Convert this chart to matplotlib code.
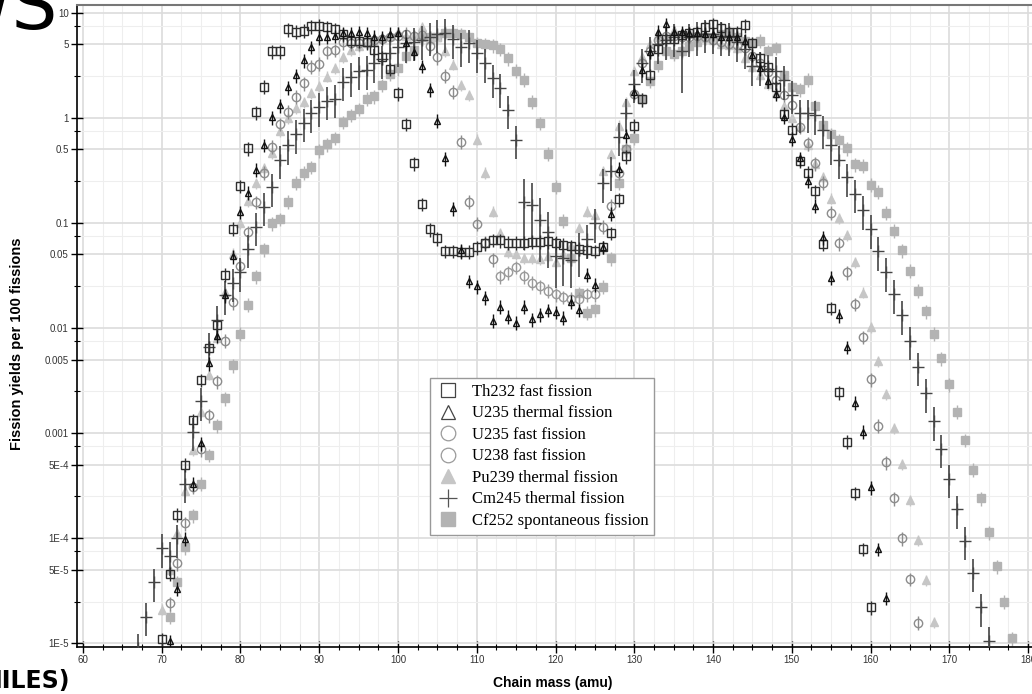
import matplotlib
matplotlib.use("Agg")
import matplotlib.pyplot as plt
from matplotlib.lines import Line2D
from matplotlib.ticker import FixedLocator, FixedFormatter, NullFormatter

# yields per 100 fissions (chain mass A -> yield)
th232_A = list(range(70, 161))
th232_y = [1.1e-5, 4.6e-5, 1.67e-4, 5.0e-4, 1.33e-3, 3.2e-3, 6.5e-3, 0.0107, 0.032, 0.088,
           0.224, 0.51, 1.13, 1.98, 4.3, 4.3, 6.95, 6.55, 6.7, 7.4,
           7.5, 7.3, 6.95, 6.2, 5.4, 5.4, 5.2, 4.4, 3.77, 2.91,
           1.71, 0.87, 0.37, 0.151, 0.087, 0.071, 0.054, 0.054, 0.053, 0.053,
           0.0586, 0.064, 0.0687, 0.068, 0.065, 0.065, 0.065, 0.066, 0.066, 0.067,
           0.065, 0.062, 0.060, 0.057, 0.055, 0.054, 0.059, 0.080, 0.167, 0.43,
           0.84, 1.5, 2.54, 4.5, 5.6, 5.6, 6.1, 6.4, 6.5, 7.3,
           7.8, 7.1, 6.5, 6.5, 7.6, 5.1, 3.68, 3.06, 1.95, 1.09,
           0.77, 0.39, 0.30, 0.20, 0.063, 0.0155, 0.00245, 8.3e-4, 2.7e-4, 7.9e-5,
           2.2e-5]

u235t_A = list(range(71, 163))
u235t_y = [1.05e-5, 3.3e-5, 9.9e-5, 3.3e-4, 8.0e-4, 4.6e-3, 8.4e-3, 0.0205, 0.048,
           0.127, 0.194, 0.32, 0.55, 1.01, 1.31, 1.95, 2.54, 3.5, 4.7,
           5.8, 5.9, 6.0, 6.4, 6.4, 6.5, 6.4, 5.9, 5.8, 6.27,
           6.4, 5.1, 4.17, 3.1, 1.87, 0.94, 0.41, 0.138, 0.055, 0.028,
           0.025, 0.0196, 0.0117, 0.016, 0.0128, 0.0112, 0.016, 0.0121, 0.0135, 0.0148,
           0.0142, 0.0125, 0.0178, 0.0148, 0.032, 0.0257, 0.059, 0.122, 0.326, 0.68,
           1.77, 2.85, 4.25, 6.6, 7.8, 6.5, 6.5, 6.4, 6.4, 6.3,
           6.27, 5.9, 5.8, 5.8, 5.4, 3.95, 2.96, 2.24, 1.68, 1.02,
           0.63, 0.41, 0.25, 0.145, 0.073, 0.030, 0.0132, 0.0066, 0.00195, 0.00103,
           3.05e-4, 7.9e-5, 2.7e-5]

u235f_A = list(range(71, 113)) + list(range(126, 167))
u235f_y = [2.4e-5, 5.8e-5, 1.39e-4, 3.1e-4, 7.0e-4, 1.48e-3, 3.1e-3, 7.6e-3, 0.0176,
           0.039, 0.081, 0.158, 0.30, 0.53, 0.87, 1.14, 1.58, 2.13, 3.06,
           3.25, 4.3, 4.4, 5.2, 5.1, 5.1, 5.3, 5.5, 5.6, 5.8,
           6.0, 6.3, 6.0, 6.1, 4.8, 3.77, 2.5, 1.77, 0.59, 0.159,
           0.098, 0.065, 0.045,
           0.092, 0.145, 0.30, 0.50,
           1.68, 3.34, 4.3, 5.5, 6.0, 6.0, 5.8, 5.9, 6.0, 5.8,
           5.5, 5.3, 5.0, 4.9, 4.6, 3.9, 3.3, 2.75, 2.29, 1.65,
           1.32, 0.82, 0.57, 0.37, 0.24, 0.125, 0.064, 0.034, 0.0169, 0.0082,
           0.00325, 0.00118, 5.3e-4, 2.4e-4, 1.0e-4, 4.1e-5, 1.57e-5]

u238f_A = list(range(113, 126))
u238f_y = [0.031, 0.034, 0.038, 0.031, 0.027, 0.025, 0.0227, 0.021, 0.0197, 0.019,
           0.019, 0.021, 0.021]

pu239_A = list(range(70, 169))
pu239_y = [2.1e-5, 5.0e-5, 1.11e-4, 2.8e-4, 6.9e-4, 1.6e-3, 3.6e-3, 8.0e-3, 0.022, 0.051,
           0.10, 0.16, 0.24, 0.33, 0.46, 0.74, 0.99, 1.23, 1.4, 1.71,
           2.0, 2.46, 2.96, 3.8, 4.4, 4.8, 5.1, 5.3, 5.7, 6.0,
           6.6, 6.0, 6.1, 7.3, 5.6, 5.8, 4.3, 3.2, 2.05, 1.65,
           0.62, 0.30, 0.128, 0.080, 0.053, 0.050, 0.046, 0.046, 0.045, 0.048,
           0.042, 0.05, 0.06, 0.089, 0.128, 0.12, 0.31, 0.45, 0.84, 1.42,
           2.8, 3.77, 5.0, 5.8, 6.0, 6.9, 6.5, 6.5, 6.0, 5.7,
           5.5, 5.0, 4.9, 4.6, 3.68, 3.06, 2.55, 2.1, 1.7, 1.3,
           0.99, 0.81, 0.55, 0.36, 0.27, 0.17, 0.11, 0.077, 0.042, 0.0217,
           0.0102, 0.0048, 0.00235, 0.00111, 5.1e-4, 2.3e-4, 9.6e-5, 4.0e-5, 1.6e-5]

cm245_A = list(range(67, 176))
cm245_y = [9e-6, 1.8e-5, 3.8e-5,
           8.1e-5, 6.8e-5, 1.0e-4, 3.3e-4, 1.03e-3, 2.0e-3, 6.6e-3, 0.0119, 0.0205, 0.027,
           0.034, 0.057, 0.092, 0.143, 0.218, 0.40, 0.55, 0.70, 0.90, 1.1,
           1.26, 1.45, 1.52, 2.2, 2.43, 2.8, 2.85, 3.3, 3.6, 4.1,
           4.7, 5.1, 5.3, 5.5, 5.9, 6.3, 6.4, 5.6, 4.7, 5.1,
           4.1, 3.3, 2.36, 1.91, 1.19, 0.62, 0.159, 0.148, 0.107, 0.082,
           0.048, 0.046, 0.044, 0.055, 0.07, 0.10, 0.24, 0.31, 0.66, 1.12,
           2.1, 3.3, 4.3, 5.0, 5.5, 5.8, 4.3, 5.8, 6.0, 6.3,
           6.2, 6.0, 5.9, 5.2, 4.5, 3.1, 3.1, 2.9, 2.8, 2.29,
           1.65, 1.1, 1.1, 1.06, 0.77, 0.55, 0.40, 0.27, 0.19, 0.132,
           0.087, 0.054, 0.034, 0.021, 0.0133, 0.0076, 0.0043, 0.0024, 0.0013, 7.1e-4,
           3.7e-4, 1.88e-4, 9.5e-5, 4.7e-5, 2.2e-5, 1.06e-5]
# Cm245 points in the valley with very long error bars
cm245_big_A = [116, 117, 118, 119, 120, 121, 122, 123, 136]
cm245_big_err = [0.65, 0.6, 0.6, 0.55, 0.5, 0.45, 0.45, 0.45, 0.6]

cf252_A = list(range(71, 179))
cf252_y = [1.8e-5, 3.8e-5, 8.2e-5, 1.65e-4, 3.3e-4, 6.2e-4, 1.19e-3, 2.14e-3, 4.4e-3,
           8.8e-3, 0.0167, 0.031, 0.056, 0.099, 0.109, 0.159, 0.24, 0.30, 0.34,
           0.49, 0.56, 0.64, 0.91, 1.06, 1.21, 1.52, 1.6, 2.05, 2.61,
           2.96, 3.87, 4.4, 5.8, 5.8, 5.8, 6.45, 6.45, 6.2, 5.8,
           5.1, 5.0, 4.9, 4.5, 3.68, 2.8, 2.29, 1.42, 0.89, 0.455,
           0.22, 0.105, 0.046, 0.0214, 0.014, 0.0151, 0.0247, 0.046, 0.24, 0.50,
           0.64, 1.5, 2.25, 3.18, 4.3, 4.05, 4.3, 4.8, 5.2, 5.8,
           5.8, 6.3, 6.4, 5.9, 5.4, 5.1, 5.4, 4.3, 4.6, 2.55,
           1.95, 1.87, 2.3, 1.29, 0.85, 0.70, 0.61, 0.51, 0.36, 0.35,
           0.23, 0.197, 0.125, 0.084, 0.055, 0.035, 0.0226, 0.0144, 0.0088, 0.00515,
           0.0029, 0.0016, 8.6e-4, 4.5e-4, 2.4e-4, 1.14e-4, 5.4e-5, 2.5e-5, 1.12e-5]

y_ticks = [1e-5, 5e-5, 1e-4, 5e-4, 1e-3, 5e-3, 0.01, 0.05, 0.1, 0.5, 1, 5, 10]
y_labels = ['1E-5', '5E-5', '1E-4', '5E-4', '0.001', '0.005', '0.01', '0.05',
            '0.1', '0.5', '1', '5', '10']
x_ticks = list(range(60, 181, 10))


def err(vals, rel):
    lo = [v * rel for v in vals]
    hi = [v * rel for v in vals]
    return [lo, hi]


fig = plt.figure(figsize=(10.32, 6.94), dpi=100)
ax = fig.add_axes([77 / 1032, 1 - 646.7 / 694, 955 / 1032, 641.7 / 694])
ax.set_yscale('log')

# (name, A, y, marker, size, face, edge, rel.err, zorder)
series = [
    ('Cf252', cf252_A, cf252_y, 's', 5.5, '#b3b3b3', '#b3b3b3', 0.15, 2),
    ('Pu239', pu239_A, pu239_y, '^', 6, '#c6c6c6', '#c6c6c6', 0.12, 3),
    ('U238f', u238f_A, u238f_y, 'o', 6, 'none', '#9a9a9a', 0.15, 4),
    ('U235f', u235f_A, u235f_y, 'o', 6, 'none', '#8c8c8c', 0.15, 4),
    ('Th232', th232_A, th232_y, 's', 6, 'none', '#2e2e2e', 0.15, 6),
    ('U235t', u235t_A, u235t_y, '^', 5, 'none', '#111111', 0.15, 7),
]
for name, A, Y, mk, ms, fc, ec, rel, z in series:
    ax.errorbar(A, Y, yerr=err(Y, rel), fmt=mk, ms=ms, mfc=fc, mec=ec, mew=1.0,
                ecolor=ec, elinewidth=1.0, capsize=0, zorder=z)

cm_err = []
for a, v in zip(cm245_A, cm245_y):
    r = 0.35
    if a in cm245_big_A:
        r = cm245_big_err[cm245_big_A.index(a)]
    cm_err.append(v * r)
ax.errorbar(cm245_A, cm245_y, yerr=cm_err, fmt='+', ms=8, mec='#454545', mew=1.0,
            ecolor='#454545', elinewidth=1.2, capsize=0, zorder=5)

ax.set_xlim(59.24, 180.5)
ax.set_ylim(9.3e-6, 11.8)

ax.xaxis.set_major_locator(FixedLocator(x_ticks))
ax.xaxis.set_minor_locator(FixedLocator([60 + 2.5 * i for i in range(49)]))
ax.yaxis.set_major_locator(FixedLocator(y_ticks))
ax.yaxis.set_major_formatter(FixedFormatter(y_labels))
minor_y = []
for e in range(-5, 2):
    minor_y += [2.5 * 10 ** e, 7.5 * 10 ** e]
ax.yaxis.set_minor_locator(FixedLocator(minor_y))
ax.yaxis.set_minor_formatter(NullFormatter())

ax.grid(True, which='major', color='#dcdcdc', lw=1.2, zorder=0)
ax.grid(True, which='minor', color='#eeeeee', lw=0.8, zorder=0)
ax.set_axisbelow(True)

ax.tick_params(which='major', direction='inout', length=8, width=1, labelsize=6.5,
               labelcolor='#333333', pad=2)
ax.tick_params(which='minor', direction='inout', length=5, width=0.8)
for lab in ax.get_xticklabels() + ax.get_yticklabels():
    lab.set_family('Liberation Sans')
    lab.set_fontsize(7)

for s in ['left', 'bottom']:
    ax.spines[s].set_color('black')
    ax.spines[s].set_linewidth(1.2)
ax.spines['top'].set_color('#777777')
ax.spines['top'].set_linewidth(1.5)
ax.spines['right'].set_visible(False)

fig.text(17 / 1032, 1 - 344 / 694, 'Fission yields per 100 fissions', rotation=90,
         ha='center', va='center', fontsize=10.5, fontweight='bold',
         family='Liberation Sans')
fig.text(553 / 1032, 1 - 683 / 694, 'Chain mass (amu)', ha='center', va='center',
         fontsize=10, fontweight='bold', family='Liberation Sans')

handles = [
    Line2D([], [], ls='none', marker='s', ms=10.5, mfc='none', mec='#444444', mew=0.9),
    Line2D([], [], ls='none', marker='^', ms=10.5, mfc='none', mec='#444444', mew=0.9),
    Line2D([], [], ls='none', marker='o', ms=10.5, mfc='none', mec='#9a9a9a', mew=0.9),
    Line2D([], [], ls='none', marker='o', ms=10.5, mfc='none', mec='#9a9a9a', mew=0.9),
    Line2D([], [], ls='none', marker='^', ms=10.5, mfc='#c6c6c6', mec='#c6c6c6'),
    Line2D([], [], ls='none', marker='+', ms=13, mec='#555555', mew=0.9),
    Line2D([], [], ls='none', marker='s', ms=10.5, mfc='#b3b3b3', mec='#b3b3b3'),
]
labels = ['Th232 fast fission', 'U235 thermal fission', 'U235 fast fission',
          'U238 fast fission', 'Pu239 thermal fission', 'Cm245 thermal fission',
          'Cf252 spontaneous fission']
leg = fig.legend(handles, labels, loc='upper left',
                 bbox_to_anchor=(430 / 1032, 1 - 378 / 694), borderaxespad=0,
                 prop={'family': 'Liberation Serif', 'size': 12},
                 fancybox=False, framealpha=1, edgecolor='#999999',
                 labelspacing=0.33, handletextpad=0.75, handlelength=1.4,
                 borderpad=0.35)
leg.get_frame().set_linewidth(1.0)

# cropped slide text around the chart
fig.text(58 / 1032, 1 - 29 / 694, 'WS', fontsize=52, ha='right', va='baseline',
         family='DejaVu Sans')
fig.text(-17 / 1032, 1 - 688 / 694, 'NILES)', fontsize=17, ha='left', va='baseline',
         family='DejaVu Sans', fontweight='bold')

fig.savefig('out.png', dpi=100)
